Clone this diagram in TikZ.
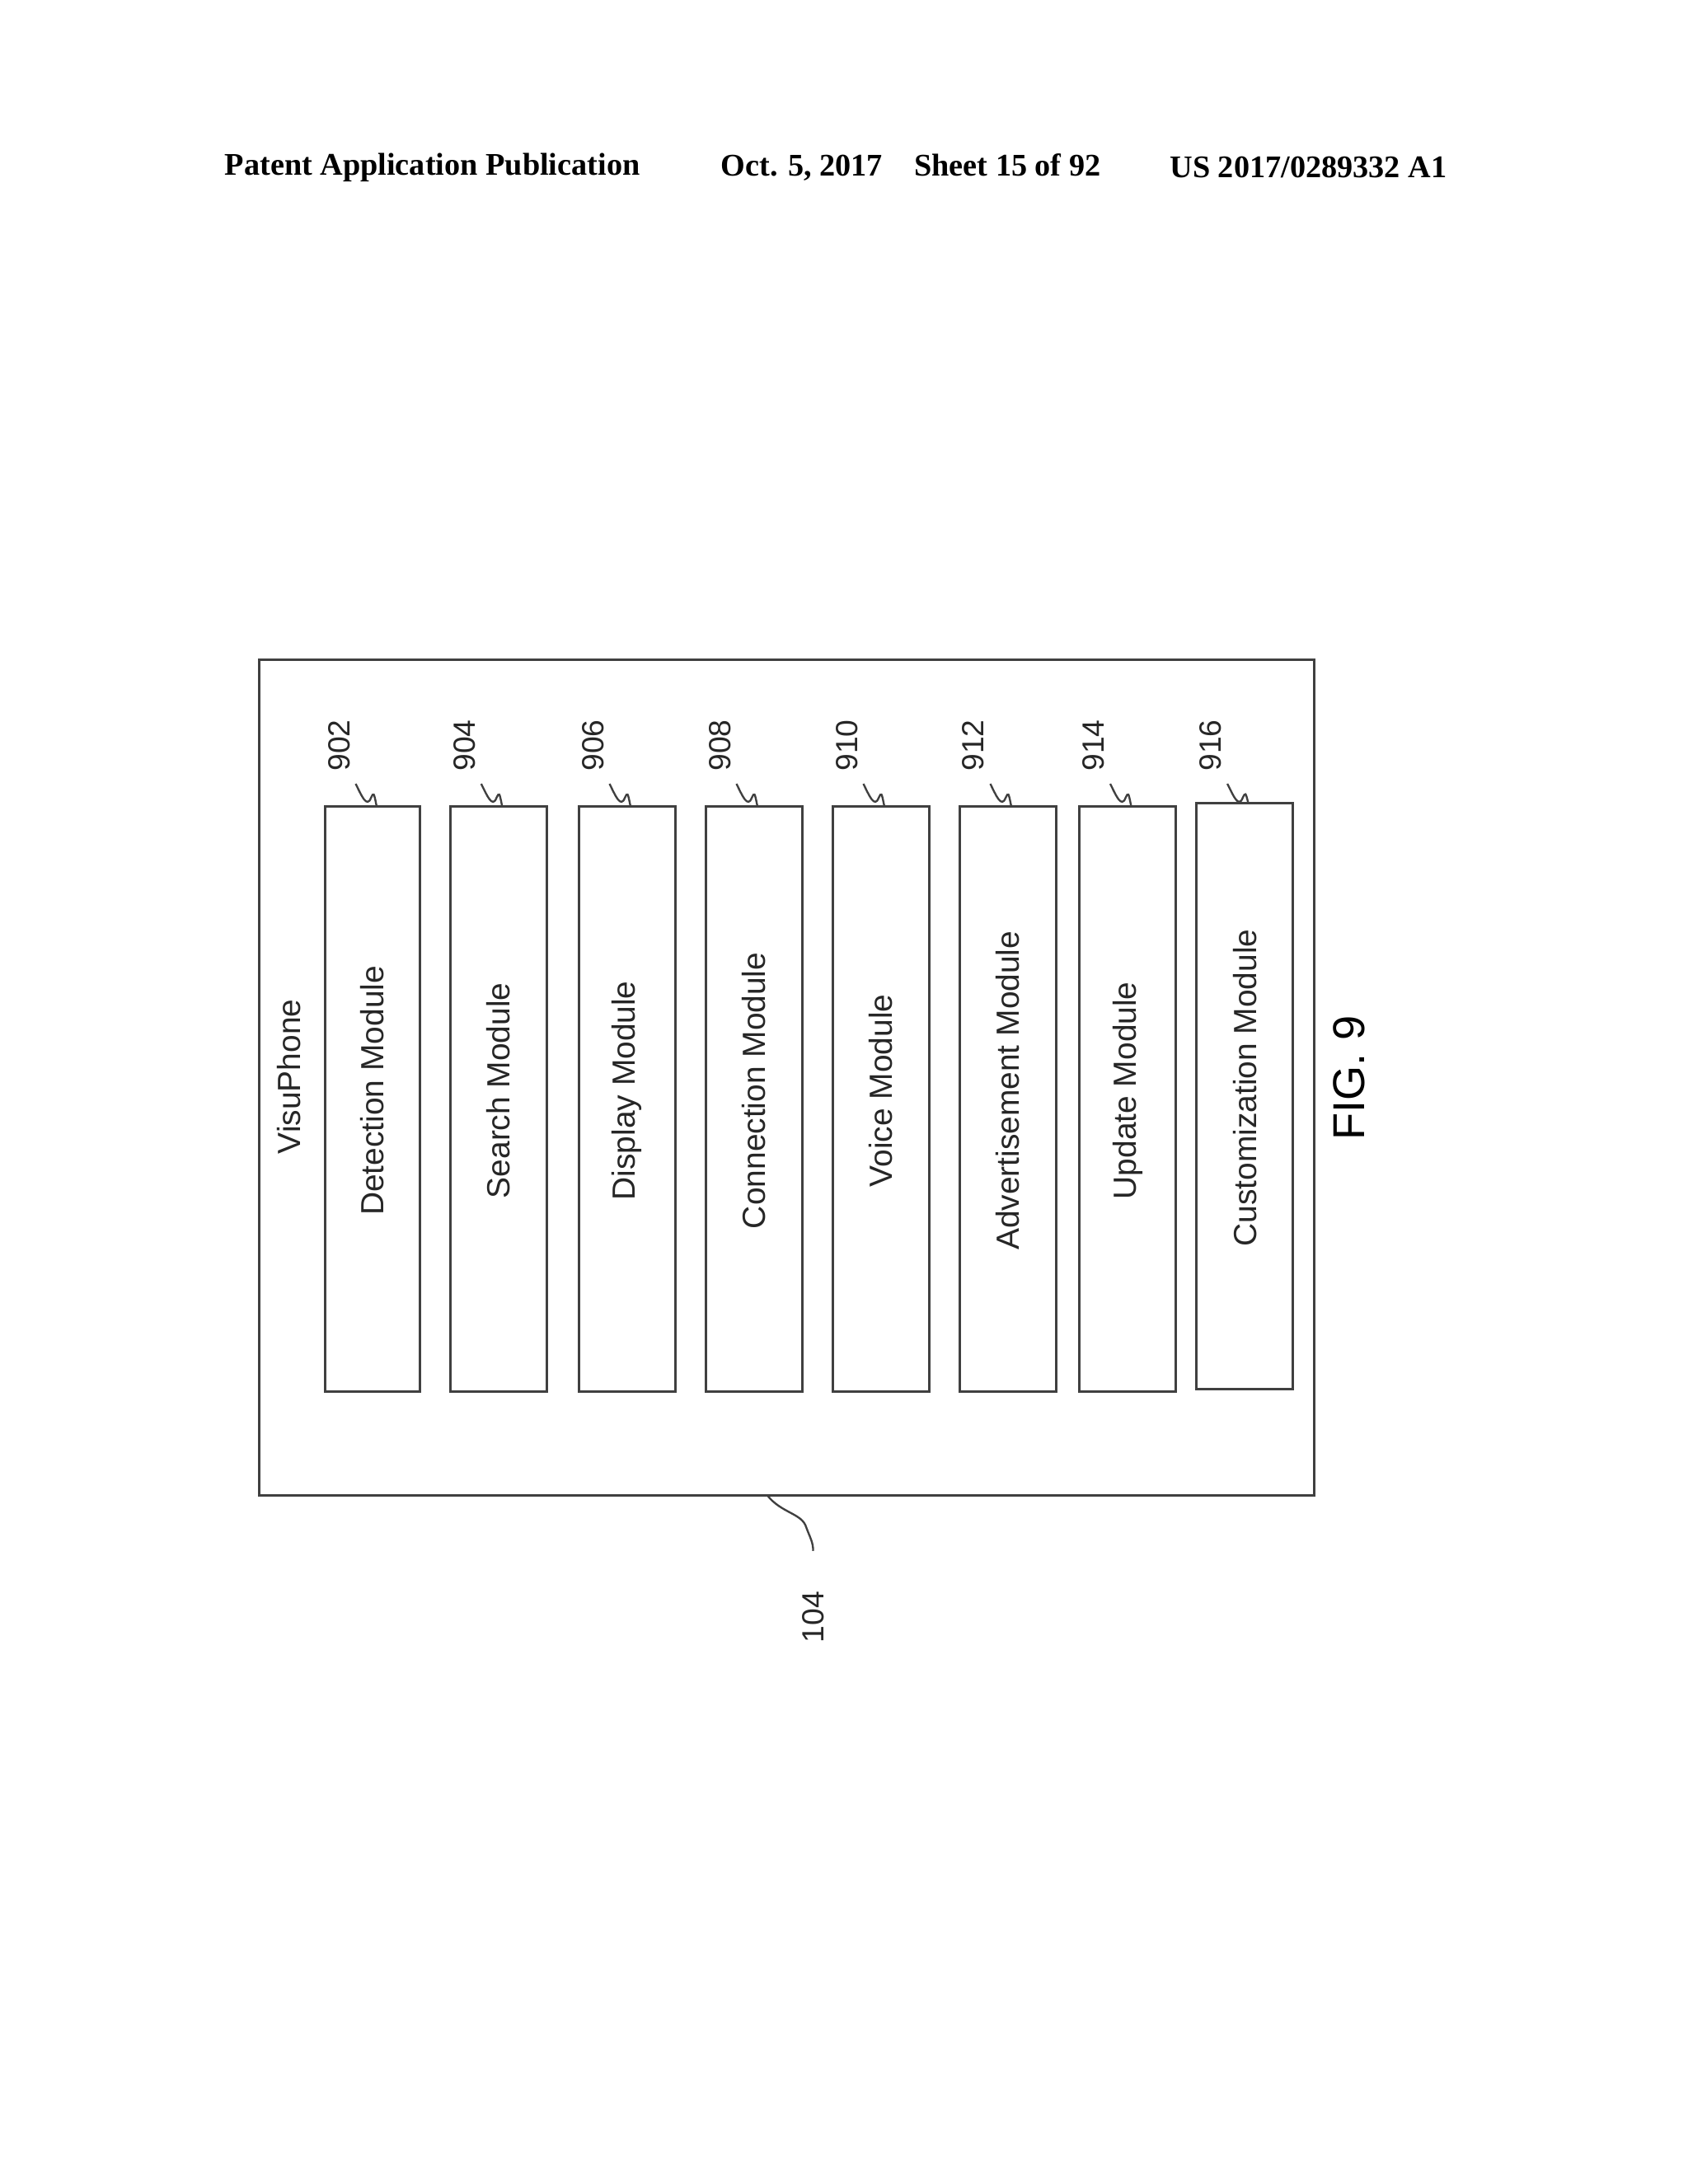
\documentclass[tikz,border=0pt]{standalone}
\usepackage{fontspec}
\setmainfont{Liberation Sans}
\newfontfamily\hdr{Liberation Serif}
\begin{document}
\begin{tikzpicture}[x=0.5pt,y=-0.5pt,
  box/.style={draw=black!75,line width=0.9pt},
  lbl/.style={rotate=90,font=\fontsize{11.5}{13}\selectfont,text=black!85},
  num/.style={rotate=90,font=\fontsize{11}{13}\selectfont,text=black!85,anchor=west},
  lead/.style={draw=black!75,line width=0.7pt}]
\useasboundingbox (0,0) rectangle (1210,1566);
\node[font=\hdr\bfseries\fontsize{11.3}{13}\selectfont] (h1) at (310,120) {Patent Application Publication};
\node[font=\hdr\bfseries\fontsize{11.3}{13}\selectfont] (h2) at (653,120) {Oct. 5, 2017\quad Sheet 15 of 92};
\node[font=\hdr\bfseries\fontsize{11.3}{13}\selectfont] (h3) at (938,120) {US 2017/0289332 A1};
\draw[box] (186,473) rectangle (942,1072);
\node[lbl] (vp) at (207,772) {VisuPhone};
\foreach \xa/\xb/\t/\n/\ya/\yb in {233/301/Detection Module/902/578/998,323/392/Search Module/904/578/998,415/484/Display Module/906/578/998,506/575/Connection Module/908/578/998,597/666/Voice Module/910/578/998,688/757/Advertisement Module/912/578/998,774/843/Update Module/914/578/998,858/927/Customization Module/916/576/996}{
  \draw[box] (\xa,\ya) rectangle (\xb,\yb);
  \node[lbl] (m\n) at ({(\xa+\xb)/2},{(\ya+\yb)/2-6}) {\t};
  \node[num] (n\n) at ({\xa+10},560) {\n};
  \coordinate (e\n) at ({\xa+37},\ya);
  \draw[lead] ({\xa+22},562) .. controls ({\xa+26},570) and ({\xa+30},580) .. ({\xa+33},572) .. controls ({\xa+35},568) .. (e\n);
}
\node[rotate=90,font=\fontsize{16}{18}\selectfont] (fig) at (967,773) {FIG. 9};
\node[num] (n104) at (583,1185) {104};
\coordinate (c104) at (550,1072);
\draw[lead] (c104) .. controls (560,1085) and (575,1085) .. (578,1095) .. controls (581,1103) and (583,1106) .. (583,1112);
\end{tikzpicture}
\end{document}
